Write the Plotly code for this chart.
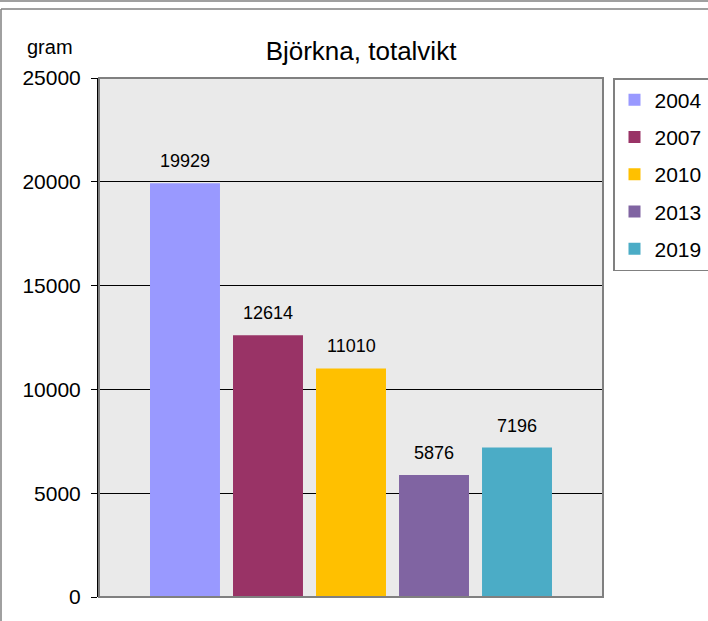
import plotly.graph_objects as go

years = ["2004", "2007", "2010", "2013", "2019"]
values = [19929, 12614, 11010, 5876, 7196]
colors = ["#9999FF", "#993366", "#FFC000", "#8064A2", "#4BACC6"]
title_text = "Björkna, totalvikt"
y_unit = "gram"
y_ticks = [0, 5000, 10000, 15000, 20000, 25000]
y_tick_labels = ["0", "5000", "10000", "15000", "20000", "25000"]

FONT = "Liberation Sans, Arial, sans-serif"

fig = go.Figure()
for i, (yr, v, c) in enumerate(zip(years, values, colors)):
    fig.add_trace(go.Bar(
        x=[i], y=[v], name=yr, width=0.843,
        marker=dict(color=c, line=dict(width=0)),
        legendgroup=yr, hoverinfo="skip",
    ))
    fig.add_annotation(x=i, y=v, text=str(v), showarrow=False,
                       yanchor="bottom", yshift=10,
                       font=dict(size=18, color="black", family=FONT))

L, R, T, B = 99, 603, 78, 597
W, H = 708, 621
pw, ph = R - L, B - T
def px(x): return (x - L) / pw
def py(y): return (B - y) / ph

# plot area border
fig.add_shape(type="rect", xref="paper", yref="paper", x0=0, x1=1, y0=0, y1=1,
              line=dict(color="#808080", width=2), layer="above")
# outer frame lines
fig.add_shape(type="line", xref="paper", yref="paper", x0=px(0), x1=px(W), y0=py(1), y1=py(1),
              line=dict(color="#808080", width=1.5))
fig.add_shape(type="line", xref="paper", yref="paper", x0=px(1), x1=px(W), y0=py(9), y1=py(9),
              line=dict(color="#808080", width=1.5))
fig.add_shape(type="line", xref="paper", yref="paper", x0=px(1), x1=px(1), y0=py(9), y1=py(H),
              line=dict(color="#808080", width=1.5))

fig.add_annotation(x=px(50), y=py(47), xref="paper", yref="paper", text=y_unit,
                   showarrow=False, xanchor="center", yanchor="middle",
                   font=dict(size=20, color="black", family=FONT))

fig.update_layout(
    width=W, height=H,
    margin=dict(l=L, r=W - R, t=T, b=H - B, pad=0, autoexpand=False),
    paper_bgcolor="white", plot_bgcolor="#EAEAEA",
    barmode="overlay",
    font=dict(family=FONT, color="black"),
    title=dict(text=title_text, x=361 / W, xanchor="center", y=1 - 51 / H, yanchor="middle",
               font=dict(size=26, color="black", family=FONT)),
    xaxis=dict(range=[-1.036, 5.036], showticklabels=False, showgrid=False, zeroline=False,
               ticks="", showline=False, automargin=False),
    yaxis=dict(range=[0, 25000], tickvals=y_ticks, ticktext=y_tick_labels,
               showgrid=True, gridcolor="black", gridwidth=1, automargin=False,
               zeroline=False, showline=True, linecolor="black", linewidth=2,
               ticks="outside", ticklen=6, tickcolor="black", ticklabelstandoff=6,
               tickfont=dict(size=21, color="black", family=FONT)),
    legend=dict(x=px(613), xanchor="left", y=1, yanchor="top",
                bordercolor="#808080", borderwidth=1.5, bgcolor="white",
                font=dict(size=21, color="black", family=FONT),
                traceorder="grouped", tracegroupgap=7, itemwidth=30),
    showlegend=True,
)

fig.write_html("out.html", config={"displayModeBar": False},
               post_script="document.body.style.margin='0px';")
